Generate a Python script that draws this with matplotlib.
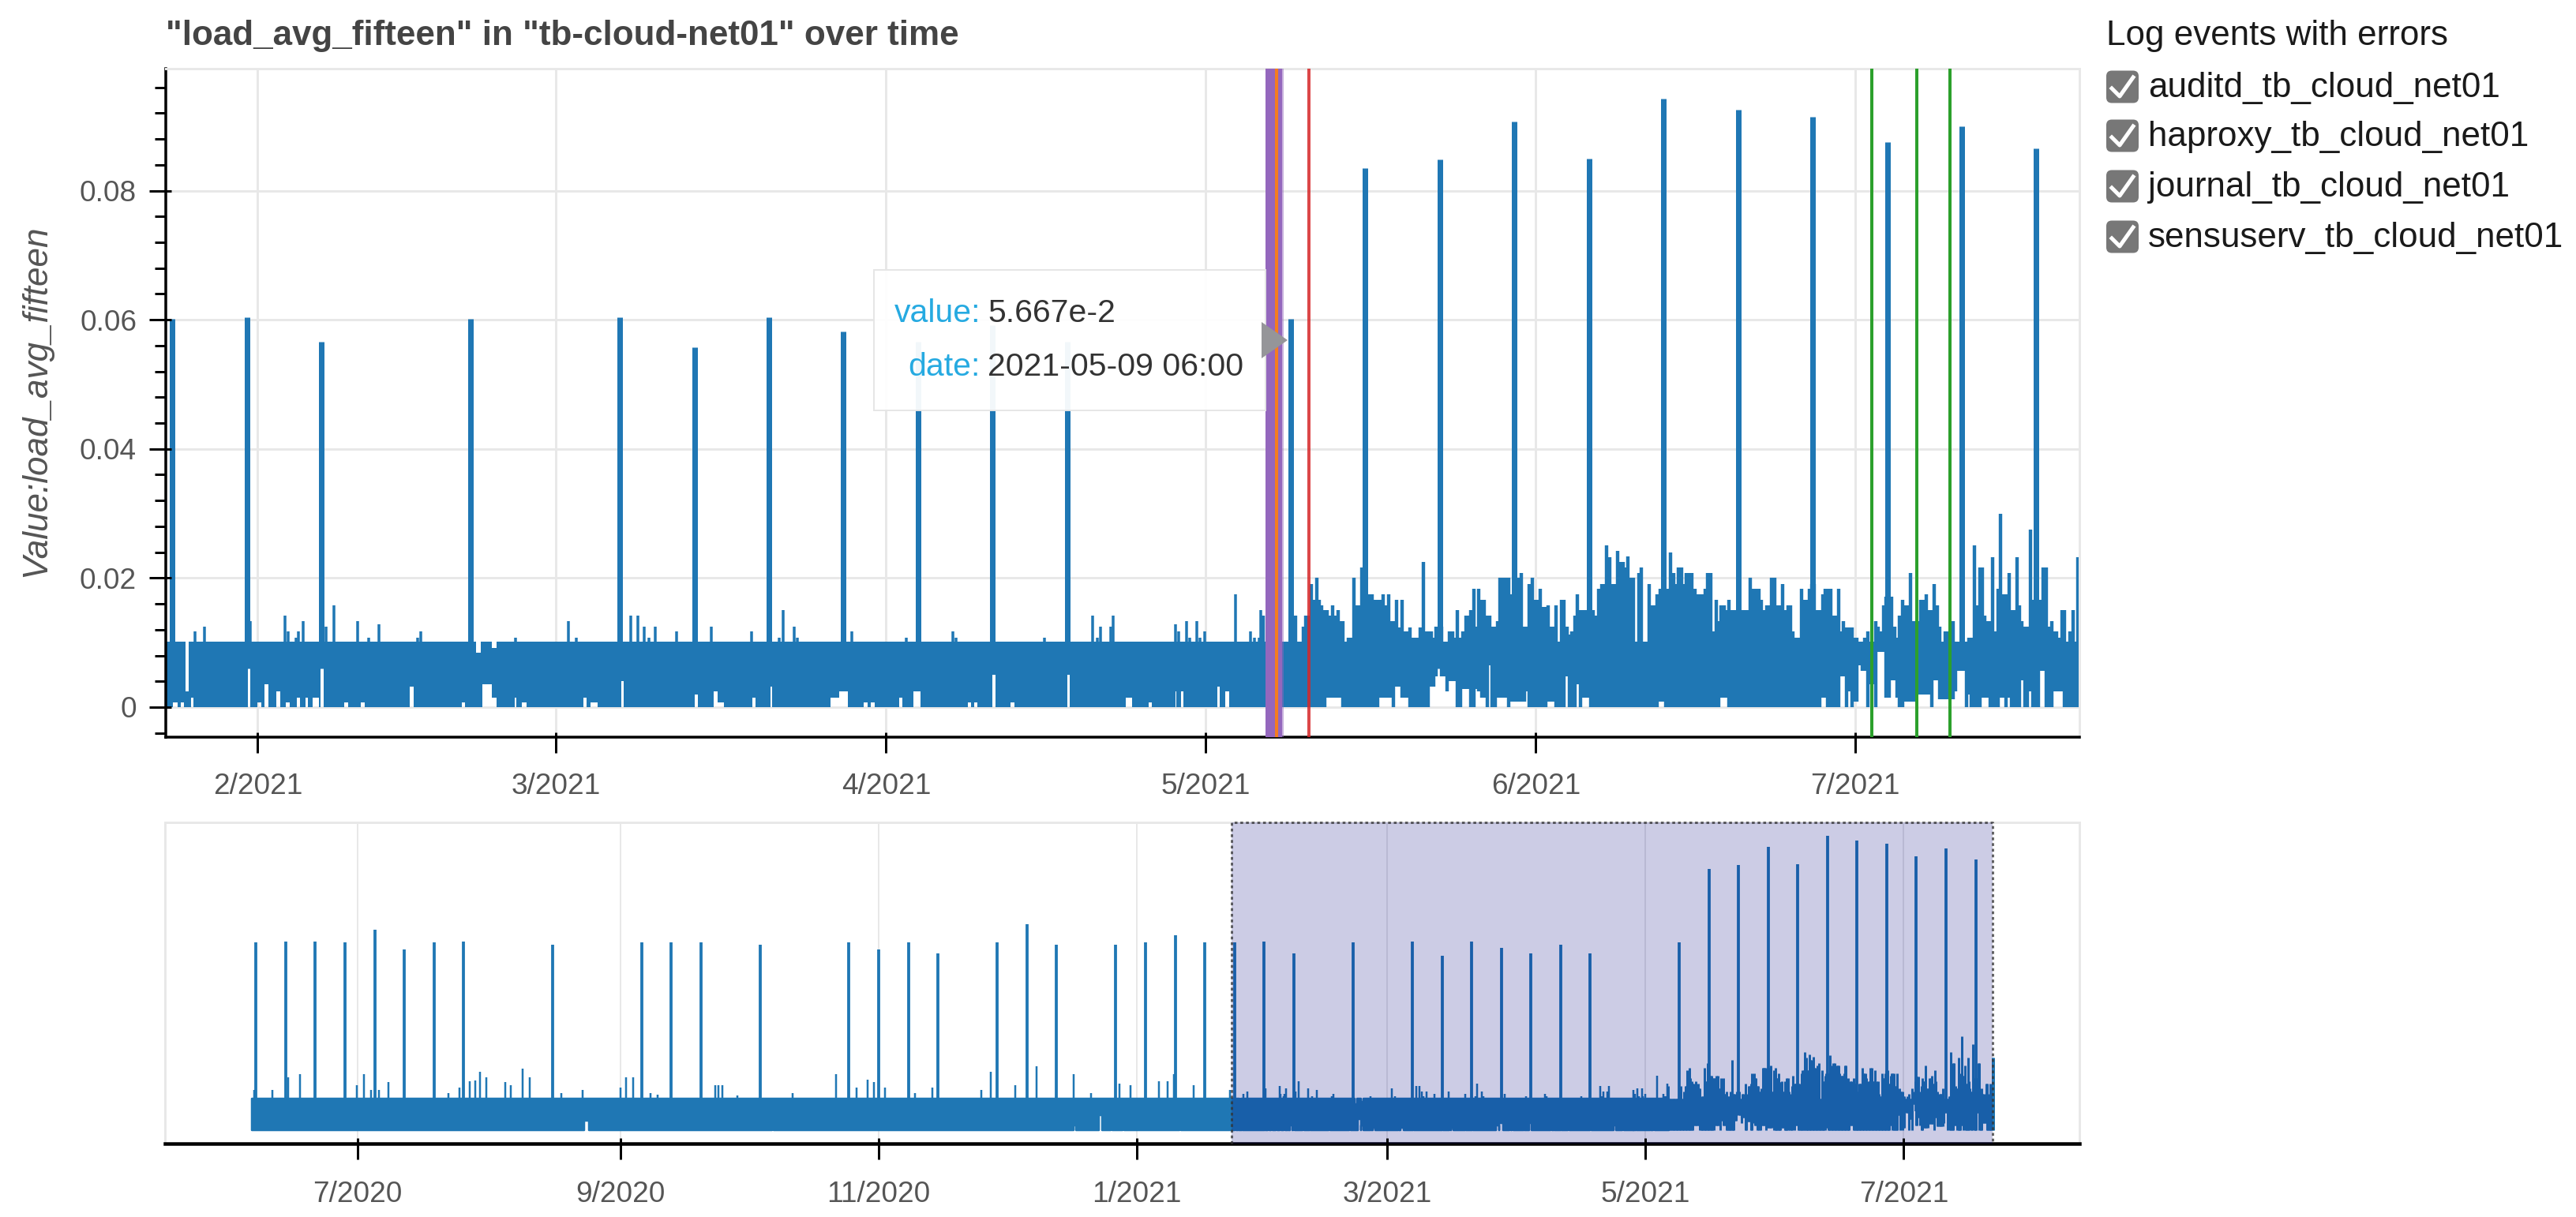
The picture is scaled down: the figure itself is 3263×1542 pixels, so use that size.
#!/usr/bin/env python3
"""load_avg_fifteen over time, with the range selector underneath."""

import matplotlib
matplotlib.use("Agg")
import matplotlib.dates as mdates
import matplotlib.pyplot as plt
import numpy as np
import pandas as pd
from matplotlib.patches import FancyBboxPatch, Polygon, Rectangle
from matplotlib.transforms import Affine2D, blended_transform_factory

plt.rcParams["font.family"] = ["Liberation Sans", "DejaVu Sans"]

W, H = 3263, 1542

TITLE = '"load_avg_fifteen" in "tb-cloud-net01" over time'
YLABEL = "Value:load_avg_fifteen"
LEGEND_TITLE = "Log events with errors"
LEGEND_LABELS = ["auditd_tb_cloud_net01", "haproxy_tb_cloud_net01",
                 "journal_tb_cloud_net01", "sensuserv_tb_cloud_net01"]

MAIN_TICKS = ["2021-02-01", "2021-03-01", "2021-04-01", "2021-05-01", "2021-06-01", "2021-07-01"]
MAIN_TICK_LABELS = ["2/2021", "3/2021", "4/2021", "5/2021", "6/2021", "7/2021"]
OVER_TICKS = ["2020-07-01", "2020-09-01", "2020-11-01", "2021-01-01", "2021-03-01", "2021-05-01", "2021-07-01"]
OVER_TICK_LABELS = ["7/2020", "9/2020", "11/2020", "1/2021", "3/2021", "5/2021", "7/2021"]
Y_TICKS = [0, 0.02, 0.04, 0.06, 0.08]
Y_TICK_LABELS = ["0", "0.02", "0.04", "0.06", "0.08"]
Y_MINOR = [-0.004, 0.004, 0.008, 0.012, 0.016, 0.024, 0.028, 0.032, 0.036, 0.044, 0.048, 0.052,
           0.056, 0.064, 0.068, 0.072, 0.076, 0.084, 0.088, 0.092, 0.096]

# weekly peaks
SPIKE_DATES = ["2020-06-07", "2020-06-14", "2020-06-21", "2020-06-28", "2020-07-05", "2020-07-12",
               "2020-07-19", "2020-07-26", "2020-08-16", "2020-09-06", "2020-09-13", "2020-09-20",
               "2020-10-04", "2020-10-25", "2020-11-01", "2020-11-08", "2020-11-15", "2020-11-29",
               "2020-12-06", "2020-12-13", "2020-12-27", "2021-01-03", "2021-01-10", "2021-01-17",
               "2021-01-24", "2021-01-31", "2021-02-07", "2021-02-21", "2021-03-07", "2021-03-14",
               "2021-03-21", "2021-03-28", "2021-04-04", "2021-04-11", "2021-04-18", "2021-05-09",
               "2021-05-16", "2021-05-23", "2021-05-30", "2021-06-06", "2021-06-13", "2021-06-20",
               "2021-06-27", "2021-07-04", "2021-07-11", "2021-07-18"]
SPIKE_VALUES = [.0601, .0604, .0604, .0601, .064, .0577, .0601, .0604, .0592, .0601, .0601, .0601,
                .0592, .0601, .0577, .0601, .0566, .0601, .0658, .0592, .0592, .0601, .0623, .0601,
                .0601, .0604, .0566, .0601, .0604, .0557, .0604, .0582, .0566, .0592, .0566, .0601,
                .0835, .0849, .0907, .085, .0942, .0925, .0915, .0875, .09, .0865]
SPIKE_FLOOR = 0.006

# quiet part of the series: days since DAY0, the band tops out near 0.01
DAY0 = pd.Timestamp("2021-02-01")
QUIET_START = -240.0
QUIET_END = 94.5
QUIET_TOP = 0.0101
GAP_START = [-161.5, -117.2, -46.0, -40.0, -37.2, -34.5, -21.0, -7.94, -7.18, -6.75, -6.25, -0.89,
             -0.06, 0.67, 1.76, 2.66, 3.65, 4.51, 5.17, 5.9, 8.15, 9.7, 14.28, 19.15, 20.47, 21.07,
             21.96, 24.11, 24.77, 30.57, 31.23, 34.11, 41.06, 42.83, 43.16, 46.47, 48.13, 53.76,
             54.59, 56.9, 57.57, 60.2, 61.54, 66.67, 67.27, 69.0, 70.71, 76.0, 81.5, 83.66, 86.14,
             86.7, 90.12, 90.84]
GAP_END = [-160.5, -116.8, -45.4, -39.2, -36.8, -34.1, -20.6, -7.51, -6.95, -6.48, -6.02, -0.66,
           0.34, 1.0, 2.09, 2.99, 3.98, 4.74, 5.73, 6.17, 8.48, 10.04, 14.64, 19.48, 20.97, 21.96,
           22.46, 24.28, 25.27, 30.9, 31.9, 34.38, 41.33, 43.16, 43.76, 46.74, 48.33, 54.59, 55.41,
           57.24, 57.9, 60.55, 62.2, 67.0, 67.6, 69.25, 71.04, 76.27, 82.07, 83.96, 86.28, 86.94,
           90.35, 91.18]
GAP_LOW = [.0032, .0032, .0015, .0049, .0034, .0024, .0049, .0007, .0007, 0, .0015, .0066,
           .0007, .0035, .0024, .0007, .0015, .0015, .0015, .0064, .0007, .0007, .0032, .0007, 0, .0035,
           .0015, .0015, .0007, .0015, .0007, .004, .002, .0024, .0007, .0015, .0032, .0015,
           .0024, .0007, .0007, .0015, .0024, .0007, .0007, .005, .0007, .005, .0015, .0007, .0024,
           .0024, .0032, .0024]
GAP_HIGH = [.0101, .0101, .0101, .0101, .0101, .0101, .0101, .0101, .0101, .0024, .0101, .0101,
            .0101, .0101, .0101, .0101, .0101, .0101, .0101, .0101, .0101, .0101, .0101, .0101, .0084, .0101,
            .0092, .0101, .0101, .0101, .0101, .0101, .0101, .0101, .0101, .0101, .0101, .0101,
            .0101, .0101, .0101, .0101, .0101, .0101, .0101, .0101, .0101, .0101, .0101, .0101, .0101,
            .0101, .0101, .0101]

# small peaks above the quiet band, same day axis
BUMP_DAYS = [-239.4, -235.2, -231.4, -228.7, -215.2, -213.6, -211.8, -210.0, -207.7, -193.6, -190.9,
             -188.6, -187.3, -186.1, -184.7, -180.2, -178.8, -176.1, -174.3, -167.0, -161.9, -153.0,
             -151.7, -149.9, -145.9, -144.1, -130.5, -129.8, -128.9, -125.3, -112.3, -102.0, -97.3,
             -94.6, -93.2, -90.5, -83.4, -79.3, -67.7, -65.5, -59.8, -54.8, -45.9, -41.8, -35.2,
             -32.6, -25.8, -23.7, -22.2, -17.7, -9.0, -5.9, -5.03, -0.66, 2.6, 2.9, 3.6, 3.85, 4.25,
             6.4, 7.16, 9.4, 10.4, 11.4, 15.0, 15.3, 24.2, 29.2, 29.9, 35.0, 35.7, 36.3, 36.7, 37.36,
             39.3, 42.6, 46.4, 49.0, 49.35, 50.35, 50.7, 55.8, 60.9, 65.3, 65.6, 73.9, 78.4, 78.8,
             79.1, 80.1, 80.35, 86.2, 86.5, 87.2, 87.5, 88.2, 88.5, 88.9, 91.8, 93.2, 93.6, 94.0, 94.2]
BUMP_VALUES = [.0128, .0128, .017, .0179, .0145, .0179, .0128, .0128, .0154, .012, .0137,
               .0158, .016, .0187, .017, .0154, .0145, .0197, .017, .012, .0128, .0137,
               .017, .017, .012, .0115, .0145, .0145, .0145, .0112, .012, .0179, .0137,
               .0162, .0154, .0137, .012, .0137, .0128, .0187, .0145, .0204, .0179, .012, .0149,
               .0145, .0158, .0158, .0179, .0145, .0128, .0117, .0125, .0133, .0142, .0117, .0108, .0117, .0133,
               .0125, .0158, .0133, .0108, .0128, .0108, .0117, .0108, .0133, .0108, .0142, .0142, .0125, .0108, .0125,
               .0117, .0125, .0117, .0108, .015, .0125, .0108, .0117, .0108, .0117, .0108, .0108, .0142, .0108,
               .0125, .0125, .0142, .0128, .0117, .0133, .0108, .0133, .0108, .0117, .0175, .0117, .0108, .0108, .015]

# noisy part, one sample range every six hours from here on
BUSY_START = "2021-05-06 10:00"
BUSY_HIGH = [
    .0142, .0101, .0101, .0101, .0101, .0101, .0101, .0101, .0101, .0101,
    .0101, .0101, .0142, .0101, .0101, .0125, .0142, .0142, .0191, .0166,
    .02, .0166, .0158, .015, .015, .0142, .0158, .0142, .015, .0133,
    .0133, .0101, .0108, .0108, .02, .0158, .0158, .0216, .0175, .0175,
    .0175, .0175, .0166, .0166, .0166, .0175, .0158, .0175, .0133, .0133,
    .0166, .0123, .0166, .0117, .0117, .0123, .0108, .0108, .0108, .0123,
    .0225, .0117, .0117, .0117, .0108, .0125, .0125, .0125, .0101, .0101,
    .0117, .0117, .0108, .015, .0108, .0117, .0142, .0142, .015, .0183,
    .0125, .0183, .0166, .0166, .0142, .0142, .0125, .0125, .0133, .02,
    .02, .02, .02, .0175, .0175, .02, .02, .0208, .0125, .0125,
    .0191, .02, .0166, .0166, .0183, .0155, .0155, .0158, .0125, .0125,
    .0158, .0101, .0166, .0166, .0125, .0112, .0117, .0142, .0175, .015,
    .015, .015, .015, .015, .015, .0142, .0183, .0191, .0191, .025,
    .0232, .0191, .0191, .0242, .0225, .0225, .0216, .0234, .0201, .0201,
    .0101, .0208, .0216, .0101, .0101, .0191, .0158, .0158, .0175, .0183,
    .0183, .0183, .0183, .024, .0208, .0191, .0216, .0216, .0191, .0208,
    .0208, .0208, .0183, .0175, .0175, .0175, .0183, .0208, .0208, .0117,
    .0166, .0133, .0158, .0158, .015, .0166, .015, .015, .0125, .0125,
    .015, .015, .015, .02, .0183, .0183, .0183, .0166, .015, .0158,
    .0158, .02, .02, .0158, .0158, .0191, .015, .0158, .0158, .0117,
    .0108, .0108, .0183, .0166, .0166, .0183, .0191, .0191, .015, .015,
    .0175, .0183, .0183, .0183, .0142, .0142, .0183, .0117, .0133, .0123,
    .0123, .0123, .0108, .0108, .0101, .0101, .0108, .0117, .0101, .0101,
    .0133, .0125, .0117, .0158, .0171, .0171, .0171, .0125, .0108, .0142,
    .0166, .0158, .0158, .0208, .0133, .0133, .0133, .0166, .0166, .0175,
    .015, .015, .0191, .0158, .0125, .0101, .0117, .0117, .0117, .0133,
    .0101, .0101, .0101, .0101, .0101, .0108, .0108, .025, .0158, .0216,
    .0216, .0142, .0133, .0133, .0232, .0117, .0183, .03, .0175, .0175,
    .0208, .015, .015, .0232, .0158, .0133, .0125, .0125, .0275, .0166,
    .0166, .0166, .0166, .0216, .0216, .0125, .0133, .0117, .0117, .0108,
    .015, .015, .0101, .0117, .015, .0101, .0232, .0232,
]
BUSY_LOW = [
    0, 0, 0, 0, 0, 0, 0, 0, 0, 0,
    0, 0, 0, 0, 0, 0, 0, 0, 0, 0,
    0, 0, 0, 0, .0015, .0015, .0015, .0015, .0015, .0015,
    0, 0, 0, 0, 0, 0, 0, 0, 0, 0,
    0, 0, 0, 0, .0015, .0015, .0015, .0015, .0015, 0,
    .0032, .0032, .0015, .0015, .0015, 0, 0, 0, 0, 0,
    0, 0, 0, .0032, .0032, .0048, .0065, .0048, .0048, .0024,
    .004, .004, .004, 0, 0, .0028, .0028, .0028, 0, 0,
    .0028, .0024, .0015, .0015, 0, .0065, 0, 0, .0015, .0015,
    .0015, .0015, 0, .0008, .0008, .0008, .0008, .0008, .0008, .0024,
    0, 0, 0, 0, 0, 0, 0, .0008, .0008, .0008,
    0, 0, 0, 0, .0048, 0, 0, 0, .0036, 0,
    .0015, .0015, .0015, 0, 0, 0, 0, 0, 0, 0,
    0, 0, 0, 0, 0, 0, 0, 0, 0, 0,
    0, 0, 0, 0, 0, 0, 0, 0, 0, .0008,
    .0008, 0, 0, 0, 0, 0, 0, 0, 0, 0,
    0, 0, 0, 0, 0, 0, 0, 0, 0, 0,
    0, 0, .0015, .0015, .0015, 0, 0, 0, 0, 0,
    0, 0, 0, 0, 0, 0, 0, 0, 0, 0,
    0, 0, 0, 0, 0, 0, 0, 0, 0, 0,
    0, 0, 0, 0, 0, 0, 0, 0, 0, 0,
    .0015, .0015, 0, 0, 0, 0, 0, .0048, .0048, 0,
    .0024, 0, .0008, .0008, .0065, .0056, .0056, 0, .0036, .0036,
    0, .0085, .0085, .0085, .0015, .0015, .0042, .0042, .0015, 0,
    0, .0008, .0008, .0008, .0008, .0008, .002, .002, .002, .002,
    .002, 0, .0042, .0042, .0012, .0012, .0012, .0012, .0012, .0012,
    .0024, .0056, .0056, .0056, 0, .002, 0, 0, 0, 0,
    .0015, .0015, .0015, 0, 0, 0, 0, .0015, .0015, 0,
    .0015, 0, 0, 0, 0, .0042, 0, 0, .0024, 0,
    0, 0, .0056, .0056, 0, 0, 0, .0024, .0024, .0024,
    .0024, 0, 0, 0, 0, 0, 0, 0,
]

# error events
PURPLE_EVENTS = ["2021-05-06 18:00", "2021-05-06 23:00", "2021-05-07 04:00", "2021-05-07 09:00",
                 "2021-05-07 14:00", "2021-05-07 19:00", "2021-05-08 00:00"]
PURPLE_FADED = ["2021-05-08 04:00"]
ORANGE_EVENTS = ["2021-05-07 16:00"]
RED_EVENTS = ["2021-05-10 16:00"]
GREEN_EVENTS = ["2021-07-02 13:00", "2021-07-06 18:00", "2021-07-09 21:00"]

TOOLTIP_KEYS = ["value:", "date:"]
TOOLTIP_VALUES = ["5.667e-2", "2021-05-09 06:00"]

MAIN_XLIM = ("2021-01-23 09:00", "2021-07-22 01:00")
OVER_XLIM = ("2020-05-16 12:00", "2021-08-11 12:00")
SELECT_RANGE = ("2021-01-23 09:00", "2021-07-22 01:00")
MAIN_YLIM = (-0.00465, 0.0989)
OVER_YLIM = (-0.00423, 0.0984)

BLUE = "#1f77b4"
GRID = "#e8e8e8"
TEXT = "#444444"
TICK_TEXT = "#555555"


def pt(px):
    return px * 0.72


def to_num(dates):
    return mdates.date2num(pd.to_datetime(dates))


def days_to_num(days):
    return mdates.date2num(DAY0) + np.asarray(days, dtype=float)


def quiet_steps():
    x, low, high = [QUIET_START], [0.0], [QUIET_TOP]
    for start, end, lo, hi in zip(GAP_START, GAP_END, GAP_LOW, GAP_HIGH):
        x += [start, end]
        low += [lo, 0.0]
        high += [hi, QUIET_TOP]
    x.append(QUIET_END)
    low.append(0.0)
    high.append(QUIET_TOP)
    return days_to_num(x), np.array(low), np.array(high)


def draw_series(ax, sample_lw, spike_lw, bump_lw, edge_lw):
    x, low, high = quiet_steps()
    ax.fill_between(x, low, high, step="post", facecolor=BLUE, edgecolor=BLUE,
                    linewidth=pt(edge_lw), zorder=2)
    ax.vlines(days_to_num(BUMP_DAYS), 0.009, BUMP_VALUES, color=BLUE, lw=pt(bump_lw), zorder=2)
    busy = mdates.date2num(pd.date_range(BUSY_START, periods=len(BUSY_HIGH), freq="6h"))
    ax.vlines(busy, BUSY_LOW, BUSY_HIGH, color=BLUE, lw=pt(sample_lw), zorder=2)
    ax.vlines(to_num(SPIKE_DATES), SPIKE_FLOOR, SPIKE_VALUES, color=BLUE, lw=pt(spike_lw), zorder=2.1)


def style_axes(ax, ticks, labels, xlim, ylim, grid_lw, axis_lw, pad):
    ax.set_xlim(to_num(xlim))
    ax.set_ylim(ylim)
    ax.set_xticks(to_num(ticks))
    ax.set_xticklabels(labels)
    ax.tick_params(axis="x", length=pt(20), width=pt(3), color="black", labelsize=pt(37),
                   labelcolor=TICK_TEXT, pad=pt(pad))
    ax.grid(axis="x", color=GRID, lw=pt(grid_lw), zorder=0)
    ax.set_axisbelow(True)
    for side in ("top", "right"):
        ax.spines[side].set_color(GRID)
        ax.spines[side].set_linewidth(pt(3))
    ax.spines["bottom"].set_color("black")
    ax.spines["bottom"].set_linewidth(pt(axis_lw))


fig = plt.figure(figsize=(W / 100, H / 100), dpi=100, facecolor="white")
px_trans = Affine2D().scale(1 / W, -1 / H).translate(0, 1) + fig.transFigure

ax = fig.add_axes([210 / W, 1 - 934 / H, (2634 - 210) / W, (934 - 87) / H])
over = fig.add_axes([209 / W, 1 - 1449 / H, (2634 - 209) / W, (1449 - 1042) / H])

# main plot
draw_series(ax, sample_lw=4.4, spike_lw=7, bump_lw=3.5, edge_lw=0)
style_axes(ax, MAIN_TICKS, MAIN_TICK_LABELS, MAIN_XLIM, MAIN_YLIM, grid_lw=3, axis_lw=3.5, pad=25)
ax.spines["left"].set_color("black")
ax.spines["left"].set_linewidth(pt(3.5))
ax.set_yticks(Y_TICKS)
ax.set_yticklabels(Y_TICK_LABELS)
ax.set_yticks(Y_MINOR, minor=True)
ax.tick_params(axis="y", which="major", length=pt(21), width=pt(3), labelsize=pt(37),
               labelcolor=TICK_TEXT, pad=pt(16))
ax.tick_params(axis="y", which="minor", length=pt(14), width=pt(3))
ax.grid(axis="y", which="major", color=GRID, lw=pt(3), zorder=0)

# bokeh ticks reach a little way into the frame too
xin = blended_transform_factory(ax.transData, ax.transAxes)
yin = blended_transform_factory(ax.transAxes, ax.transData)
ax.vlines(to_num(MAIN_TICKS), 0, 6 / 847, transform=xin, color="black", lw=pt(3), zorder=3)
ax.hlines(Y_TICKS, 0, 7 / 2424, transform=yin, color="black", lw=pt(3), zorder=3)

for dates, color, alpha in [(PURPLE_FADED, "#9467bd", 0.5), (PURPLE_EVENTS, "#9467bd", 1.0),
                            (ORANGE_EVENTS, "#ff7f0e", 0.9), (RED_EVENTS, "#d62728", 0.85),
                            (GREEN_EVENTS, "#2ca02c", 1.0)]:
    for d in to_num(dates):
        ax.axvline(d, color=color, alpha=alpha, lw=pt(4), solid_capstyle="butt", zorder=4)

# range selector
draw_series(over, sample_lw=3, spike_lw=3.8, bump_lw=2.5, edge_lw=2.5)
style_axes(over, OVER_TICKS, OVER_TICK_LABELS, OVER_XLIM, OVER_YLIM, grid_lw=2, axis_lw=4.5, pad=27)
over.set_yticks([])
over.spines["left"].set_color(GRID)
over.spines["left"].set_linewidth(pt(3))
sel = to_num(SELECT_RANGE)
over.axvspan(sel[0], sel[1], facecolor="navy", alpha=0.2, linewidth=0, zorder=3)
over.plot([sel[0], sel[0], sel[1], sel[1]], [0, 1, 1, 0],
          transform=blended_transform_factory(over.transData, over.transAxes),
          color="#333333", alpha=0.75, lw=pt(3), ls=(0, (1.2, 1.2)), clip_on=False, zorder=4)
xin2 = blended_transform_factory(over.transData, over.transAxes)
over.vlines(to_num(OVER_TICKS), 0, 7 / 407, transform=xin2, color="black", lw=pt(3), zorder=5)

# text outside the axes
fig.text(210, 46, TITLE, transform=px_trans, fontsize=pt(44), fontweight="bold", color=TEXT,
         ha="left", va="center")
fig.text(46, 508, YLABEL, transform=px_trans, fontsize=pt(44), style="italic", color=TICK_TEXT,
         rotation=90, ha="center", va="center")

# tooltip
fig.add_artist(Rectangle((1107, 341.5), 495.7, 178.5, transform=px_trans, facecolor="white",
                         edgecolor="#e5e5e5", alpha=0.95, lw=pt(2), zorder=10))
fig.add_artist(Polygon([(1598, 408), (1631, 431), (1598, 454)], closed=True, transform=px_trans,
                       facecolor="#959599", edgecolor="none", zorder=11))
for y, key, value in zip((397, 465), TOOLTIP_KEYS, TOOLTIP_VALUES):
    fig.text(1242, y, key, transform=px_trans, fontsize=pt(41), color="#26aae1", ha="right",
             va="center", zorder=12)
    fig.text(1251, y, value, transform=px_trans, fontsize=pt(41), color="#333333", ha="left",
             va="center", zorder=12)

# checkbox legend
fig.text(2668, 45, LEGEND_TITLE, transform=px_trans, fontsize=pt(44), color="#1a1a1a", ha="left",
         va="center")
for y, label in zip((110, 172, 236, 300), LEGEND_LABELS):
    fig.add_artist(FancyBboxPatch((2673, y - 15.5), 31, 31, boxstyle="round,pad=5,rounding_size=7",
                                  transform=px_trans, facecolor="#777777", edgecolor="none", zorder=5))
    fig.add_artist(plt.Line2D([2675, 2685, 2702], [y + 2, y + 12, y - 12], transform=px_trans,
                              color="white", lw=pt(5), zorder=6))
    fig.text(2721, y + 2, label, transform=px_trans, fontsize=pt(44), color="#1a1a1a", ha="left",
             va="center")

fig.savefig("out.png", dpi=100)
